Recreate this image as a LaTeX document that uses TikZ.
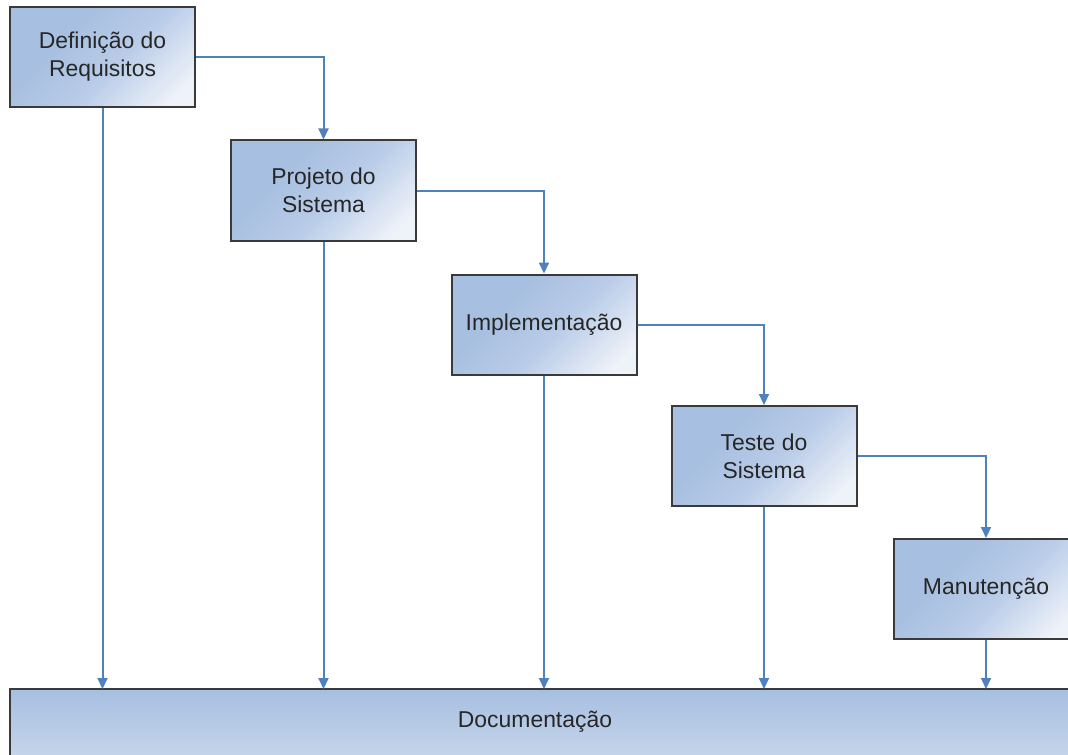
\documentclass[tikz,border=0pt]{standalone}
\usepackage{fontspec}
\setmainfont{Liberation Sans}
\usetikzlibrary{arrows.meta}

\definecolor{linkblue}{HTML}{4F81BD}
\definecolor{boxdark}{HTML}{A7BFE0}
\definecolor{boxmid}{HTML}{B9CCE8}
\definecolor{boxlight}{HTML}{EEF2F9}
\definecolor{doclight}{HTML}{D4DFEF}
\definecolor{edgegray}{HTML}{3A3A3A}
\definecolor{textgray}{HTML}{262626}

\pgfdeclareverticalshading{phaseshade}{100bp}{
    color(0bp)=(boxlight); color(22bp)=(boxlight); color(45bp)=(boxmid);
    color(65bp)=(boxdark); color(100bp)=(boxdark)}

\tikzset{
    phase/.style={draw=edgegray, line width=2bp,
        shading=phaseshade, shading angle=45,
        inner sep=0pt, align=center, text=textgray,
        minimum width=\bw bp, minimum height=\bh bp,
        font=\fontsize{23}{28}\selectfont},
    docbox/.style={draw=edgegray, line width=2bp,
        top color=boxdark, bottom color=doclight},
    doclabel/.style={inner sep=0pt, text=textgray, font=\fontsize{23}{28}\selectfont},
    flow/.style={draw=linkblue, line width=2bp, -{Triangle[length=11bp,width=10bp]}},
}

\begin{document}
\begin{tikzpicture}[x=1bp, y=-1bp]
    \def\bw{185}    % phase box width
    \def\bh{100}    % phase box height
    \def\dy{689}    % top of the documentation bar
    \clip (0,0) rectangle (1068,755);
    % Draw the documentation bar
    \draw[docbox] (10,\dy) rectangle (1090,790);
    \node[doclabel] (doc) at (535,722) {Documentação};
    \coordinate (docTop) at (0,\dy);
    % Draw the phases
    \node[phase] (req)  at (102.5,57)  {Definição do\\Requisitos};
    \node[phase] (proj) at (323.5,190.5) {Projeto do\\Sistema};
    \node[phase] (impl) at (544,324.5) {Implementação};
    \node[phase] (test) at (764,456)   {Teste do\\Sistema};
    \node[phase] (man)  at (986,589)   {Manutenção};
    % Draw the flow between phases
    \draw[flow] (req.east)  -| (proj.north);
    \draw[flow] (proj.east) -| (impl.north);
    \draw[flow] (impl.east) -| (test.north);
    \draw[flow] (test.east) -| (man.north);
    % Draw the links to the documentation
    \draw[flow] (req.south)  -- (req.south |- docTop);
    \draw[flow] (proj.south) -- (proj.south |- docTop);
    \draw[flow] (impl.south) -- (impl.south |- docTop);
    \draw[flow] (test.south) -- (test.south |- docTop);
    \draw[flow] (man.south)  -- (man.south |- docTop);
\end{tikzpicture}
\end{document}
